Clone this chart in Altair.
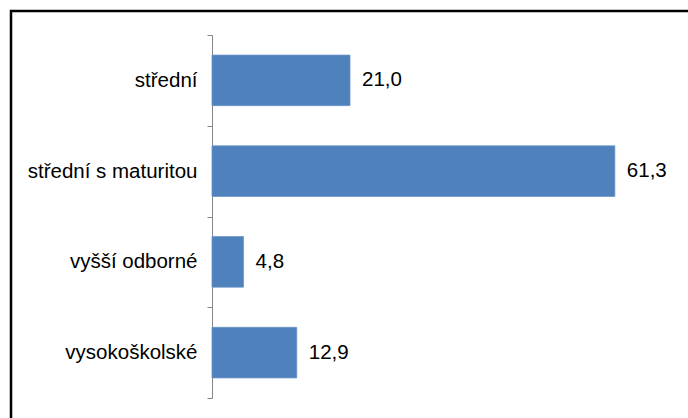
import altair as alt
import pandas as pd

categories = ["střední", "střední s maturitou", "vyšší odborné", "vysokoškolské"]
values = [21.0, 61.3, 4.8, 12.9]

df = pd.DataFrame({"kategorie": categories, "hodnota": values})

FONT = "Liberation Sans"

base = alt.Chart(df).encode(
    y=alt.Y(
        "kategorie:N",
        sort=categories,
        scale=alt.Scale(paddingInner=0, paddingOuter=0),
        axis=alt.Axis(
            title=None,
            domainColor="#868686",
            tickColor="#868686",
            domainWidth=1,
            tickWidth=1,
            tickSize=5,
            tickBand="extent",
            labelFont=FONT,
            labelFontSize=20.5,
            labelColor="#000000",
            labelPadding=10,
            grid=False,
        ),
    ),
    x=alt.X("hodnota:Q", scale=alt.Scale(domain=[0, 70], nice=False), axis=None),
)

bars = base.mark_bar(
    color="#4F81BD", stroke="#6A94C9", strokeWidth=0.8,
    height=alt.RelativeBandSize(band=0.557),
)

labels = base.transform_calculate(
    label="replace(format(datum.hodnota, '.1f'), '.', ',')"
).mark_text(
    align="left", baseline="middle", dx=12, font=FONT, fontSize=20.5, color="#000000"
).encode(text="label:N")

frame = alt.Chart(alt.Data(values=[{"a": 1}])).mark_rect(
    fill="transparent", stroke="#000000", strokeWidth=2.5
).encode(
    x=alt.value(-201),
    y=alt.value(-24),
    x2=alt.value(560),
    y2=alt.value(430),
)

chart = alt.layer(frame, bars, labels).properties(
    width=460,
    height=363,
    padding={"left": 212, "top": 35, "right": 16, "bottom": 20},
    autosize=alt.AutoSizeParams(type="none"),
    background="#ffffff",
).configure_view(stroke=None)

chart.save("out.html", embed_options={"renderer": "svg", "actions": False})
